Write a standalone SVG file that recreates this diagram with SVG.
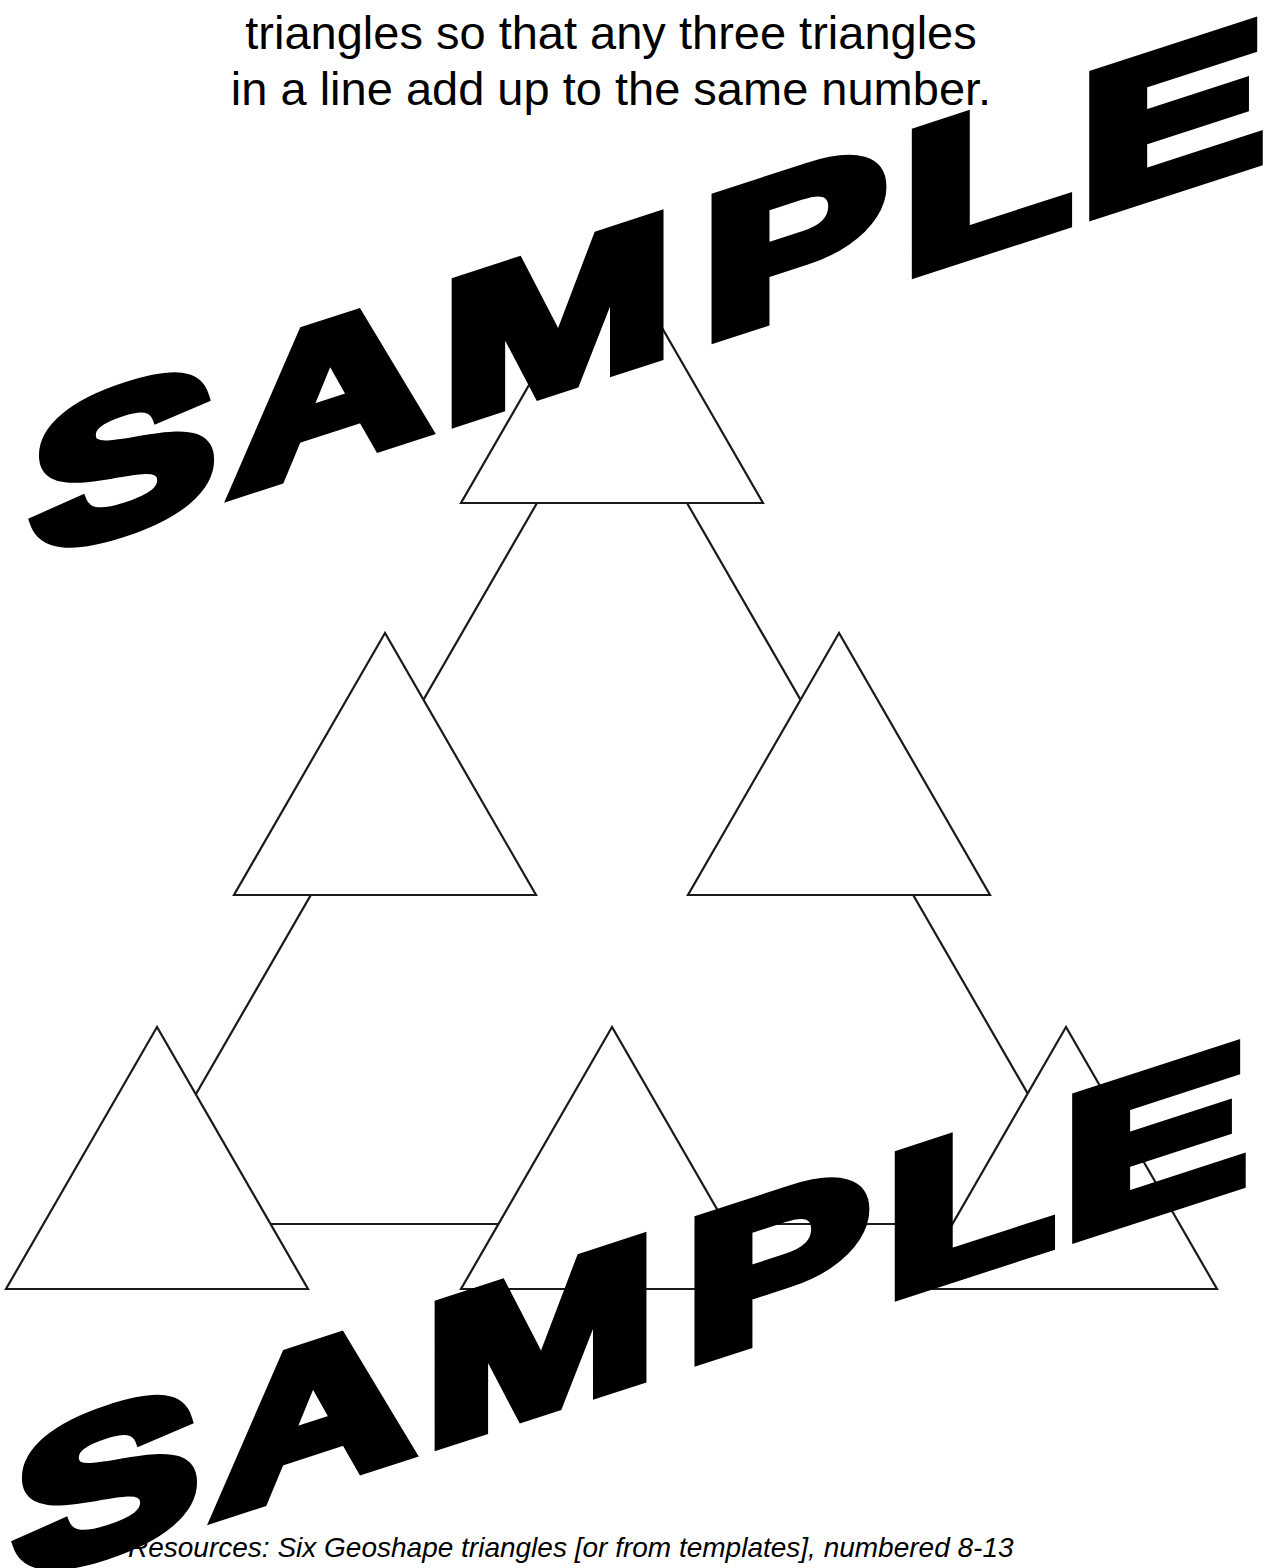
<svg xmlns="http://www.w3.org/2000/svg" width="1271" height="1568" viewBox="0 0 1271 1568">
<style>
.tri{fill:#fff;stroke:#1a1a1a;stroke-width:2.2;stroke-linejoin:miter}
.con{fill:none;stroke:#1a1a1a;stroke-width:2.2}
.txt{font-family:"Liberation Sans",Arial,Helvetica,sans-serif;fill:#000}
.wm{font-family:"Liberation Sans",Arial,Helvetica,sans-serif;font-weight:bold;font-size:200px;fill:#000;stroke:#000;stroke-width:13;stroke-linejoin:miter}
</style>
<rect x="0" y="0" width="1271" height="1568" fill="#fff"/>
<g id="title" class="txt" font-size="47" text-anchor="middle">
<text x="611" y="49">triangles so that any three triangles</text>
<text x="611" y="105">in a line add up to the same number.</text>
</g>
<g id="connectors">
<polygon class="con" points="612,373 121,1224 1103,1224"/>
</g>
<g id="tri-top"><polygon class="tri" points="612,241 461,503 763,503"/></g>
<g id="tri-mid-left"><polygon class="tri" points="385,633 234,895 536,895"/></g>
<g id="tri-mid-right"><polygon class="tri" points="839,633 688,895 990,895"/></g>
<g id="tri-bottom-left"><polygon class="tri" points="157,1027 6,1289 308,1289"/></g>
<g id="tri-bottom-mid"><polygon class="tri" points="612,1027 461,1289 763,1289"/></g>
<g id="tri-bottom-right"><polygon class="tri" points="1066,1027 915,1289 1217,1289"/></g>
<g id="resources" class="txt" font-size="28" font-style="italic">
<text x="128" y="1557">Resources: Six Geoshape triangles [or from templates], numbered 8-13</text>
</g>
<g id="watermark-1" transform="skewY(-18) scale(1.386,1)">
<text class="wm" x="22.4 166 319 506.5 651 779" y="569">SAMPLE</text>
</g>
<g id="watermark-2" transform="skewY(-18) scale(1.386,1)">
<text class="wm" x="10.1 153.7 306.7 494.2 638.7 766.7" y="1586">SAMPLE</text>
</g>
</svg>
